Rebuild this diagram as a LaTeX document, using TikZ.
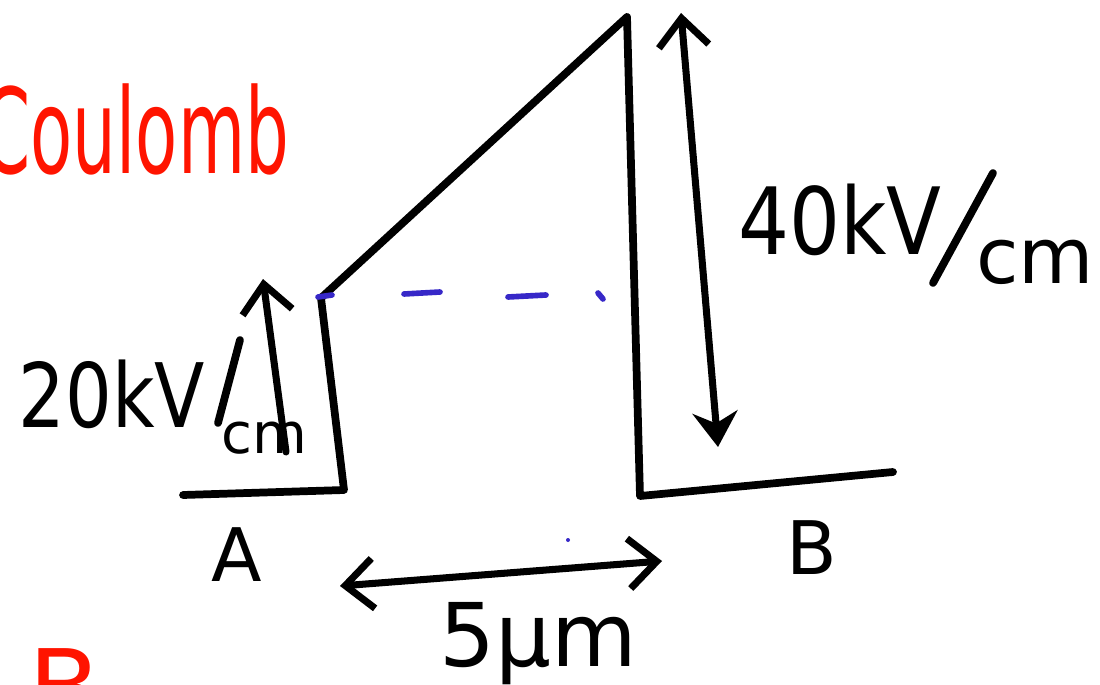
\documentclass[tikz,border=0pt]{standalone}
\usepackage{fontspec}
\setmainfont{DejaVu Sans}
\usetikzlibrary{arrows.meta}
\definecolor{ink}{RGB}{0,0,0}
\definecolor{redink}{RGB}{255,20,0}
\definecolor{blueink}{RGB}{55,40,200}
\tikzset{
  stroke/.style={draw=ink,line width=2.2pt,line cap=round,line join=round},
  bluedash/.style={draw=blueink,line width=1.6pt,line cap=round},
  dimarrow/.style={stroke,line width=2pt},
  hw/.style={inner sep=0pt,text=ink},
  barb/.tip={Straight Barb[length=2.8mm,width=5mm,line width=2pt]}
}
\begin{document}
\begin{tikzpicture}[x=0.01cm,y=-0.01cm]
\path[use as bounding box,fill=white] (0,0) rectangle (1100,685);
% shape corners
\coordinate (bl0) at (183,495);
\coordinate (bl1) at (344,490);
\coordinate (tl) at (321,298);
\coordinate (top) at (627,17);
\coordinate (br0) at (640,496);
\coordinate (br1) at (893,472);
\draw[stroke] (bl0) -- (bl1) -- (tl) -- (top) -- (br0) -- (br1);
% blue dashes
\coordinate (d1a) at (318,297); \coordinate (d1b) at (332,295);
\coordinate (d2a) at (404,294); \coordinate (d2b) at (440,292);
\coordinate (d3a) at (508,297); \coordinate (d3b) at (546,295);
\coordinate (d4a) at (598,293); \coordinate (d4b) at (603,299);
\draw[bluedash] (d1a) -- (d1b);
\draw[bluedash] (d2a) -- (d2b);
\draw[bluedash] (d3a) -- (d3b);
\draw[bluedash] (d4a) -- (d4b);
\fill[blueink] (568,540) circle (2);
% left arrow 20kV/cm
\coordinate (la0) at (286,452);
\coordinate (la1) at (263,279);
\draw[dimarrow,-{barb}] (la0) -- (la1);
% right arrow 40kV/cm
\coordinate (ra0) at (681,13);
\coordinate (ra1) at (718,447);
\draw[dimarrow,{barb}-{Stealth[length=3.5mm,width=4.5mm]}] (ra0) -- (ra1);
% bottom arrow 5um
\coordinate (ba0) at (340,586);
\coordinate (ba1) at (662,561);
\draw[dimarrow,{barb}-{barb}] (ba0) -- (ba1);
% labels
\node[hw,font=\fontsize{22}{26}\selectfont] (l20) at (112,394) {\scalebox{0.95}[1.15]{20kV}};
\coordinate (s1a) at (240,340); \coordinate (s1b) at (218,423);
\draw[stroke] (s1a) -- (s1b);
\node[hw,font=\fontsize{16}{19}\selectfont] (lcm1) at (264,438) {cm};
\node[hw,font=\fontsize{24}{28}\selectfont] (l40) at (840,220) {\scalebox{0.95}[1.1]{40kV}};
\coordinate (s2a) at (993,173); \coordinate (s2b) at (933,283);
\draw[stroke] (s2a) -- (s2b);
\node[hw,font=\fontsize{22}{26}\selectfont] (lcm2) at (1035,262) {cm};
\node[hw,font=\fontsize{21}{25}\selectfont] (lA) at (237,555) {A};
\node[hw,font=\fontsize{21}{25}\selectfont] (lB) at (812,548) {B};
\node[hw,font=\fontsize{25}{29}\selectfont] (l5) at (538,644) {5μm};
\node[hw,text=redink,font=\fontsize{28}{32}\selectfont,anchor=base west] (coul) at (-18,174) {\scalebox{0.7}[1.2]{Coulomb}};
\node[hw,text=redink,font=\fontsize{30}{34}\selectfont,anchor=north west] (redB) at (28,648) {B};
\end{tikzpicture}
\end{document}
